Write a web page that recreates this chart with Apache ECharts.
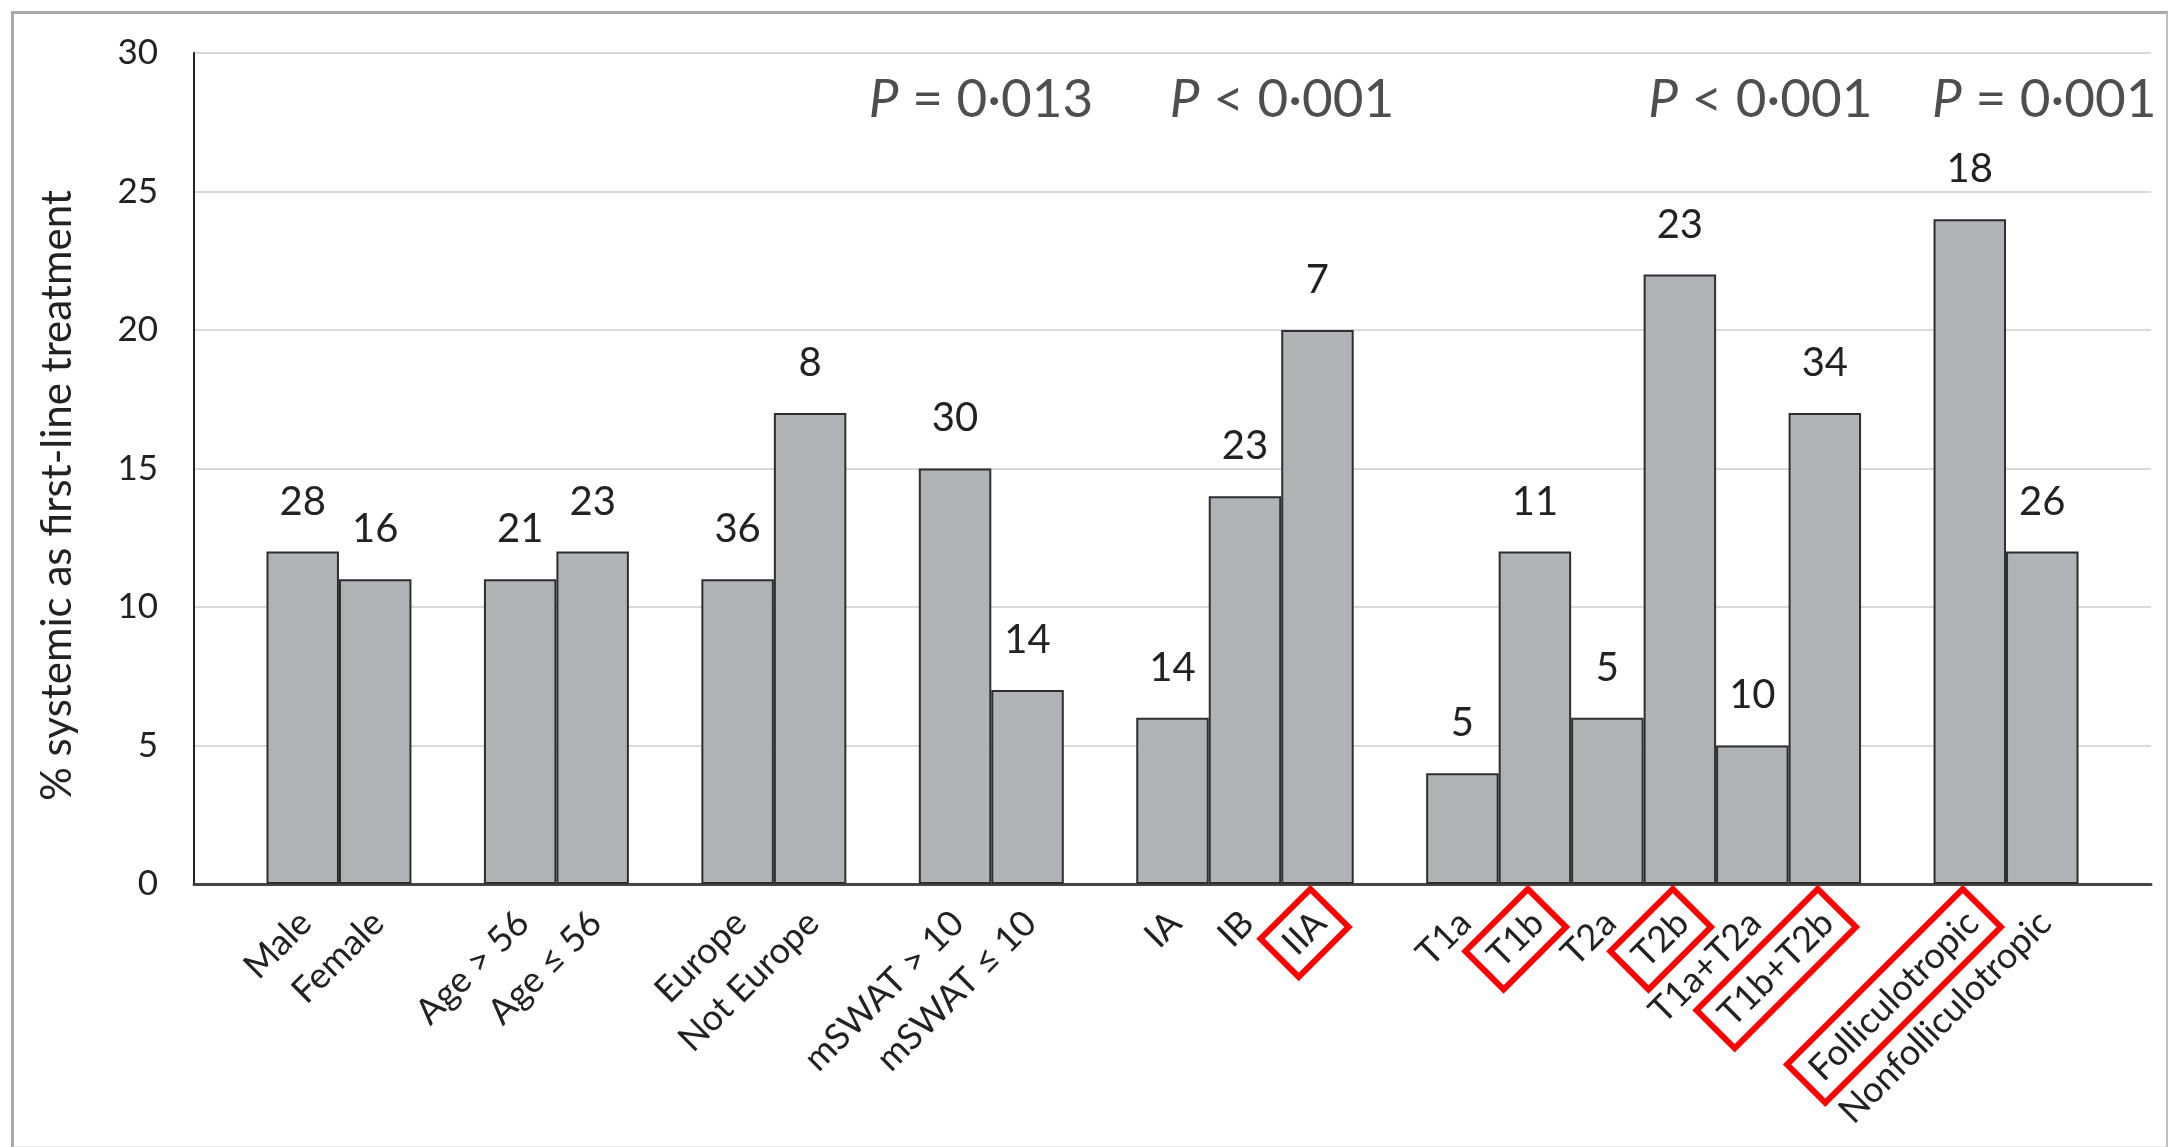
<!DOCTYPE html>
<html>
<head>
<meta charset="utf-8">
<script src="https://cdn.jsdelivr.net/npm/echarts@6/dist/echarts.min.js"></script>
<style>
  html, body { margin: 0; padding: 0; background: #ffffff; }
  #frame {
    position: absolute; left: 11px; top: 11px; width: 2152px; height: 1132px;
    border-top: 3px solid #A9A9A9; border-left: 3px solid #A9A9A9;
    border-right: 2px solid #BDBDBD; border-bottom: 2px solid #E8E8E8;
  }
  #chart { position: absolute; left: 0; top: 0; width: 2172px; height: 1147px; }
</style>
</head>
<body>
<div id="frame"></div>
<div id="chart"></div>
<script>
// Categories along the x axis; empty strings are spacers between variable groups
const categories = ['', 'Male', 'Female', '', 'Age > 56', 'Age ≤ 56', '', 'Europe', 'Not Europe', '',
  'mSWAT > 10', 'mSWAT ≤ 10', '', 'IA', 'IB', 'IIA', '', 'T1a', 'T1b', 'T2a', 'T2b', 'T1a+T2a', 'T1b+T2b', '',
  'Folliculotropic', 'Nonfolliculotropic', ''];

// % of patients receiving systemic therapy as first-line treatment
const systemicPct = [null, 12, 11, null, 11, 12, null, 11, 17, null, 15, 7, null, 6, 14, 20, null,
  4, 12, 6, 22, 5, 17, null, 24, 12, null];

// Number of patients shown above each bar
const patientCounts = [null, 28, 16, null, 21, 23, null, 36, 8, null, 30, 14, null, 14, 23, 7, null,
  5, 11, 5, 23, 10, 34, null, 18, 26, null];

// Categories boxed in red
const highlighted = ['IIA', 'T1b', 'T2b', 'T1b+T2b', 'Folliculotropic'];

// P values and the category each one sits above
const pValueRelation = ['=', '<', '<', '='];
const pValueNumber = ['0·013', '0·001', '0·001', '0·001'];
const pValueAnchor = ['mSWAT > 10', 'IB', 'T1a+T2a', 'Nonfolliculotropic'];
const pValueLevel = 28.3;

// Y axis scale
const yMin = 0, yMax = 30, yStep = 5;

const FONT = 'Lato';
const TEXT = '#222222';
const pShift = [26, 37, 8, 2];

const chart = echarts.init(document.getElementById('chart'), null, { renderer: 'canvas' });

const pData = pValueAnchor.map((c, i) => ({
  value: [categories.indexOf(c), pValueLevel],
  label: { offset: [pShift[i], 0] },
  rel: pValueRelation[i],
  num: pValueNumber[i]
}));

const catLabelStyle = { fontFamily: FONT, fontSize: 36, color: TEXT, padding: [9, 13, 9, 13] };

const option = {
  backgroundColor: 'transparent',
  animation: false,
  grid: { left: 194, right: 21, top: 53, bottom: 263, containLabel: false },
  xAxis: {
    type: 'category',
    data: categories,
    axisLine: { show: true, lineStyle: { color: '#454545', width: 3 } },
    axisTick: { show: false },
    splitLine: { show: false },
    axisLabel: {
      interval: 0,
      rotate: 45,
      margin: 12,
      // extra room on the text's upper side nudges the rotated labels down-right
      padding: [34, 0, 0, 0],
      fontFamily: FONT,
      fontSize: 36,
      color: TEXT,
      formatter: v => v === '' ? '' : (highlighted.includes(v) ? '{hl|' + v + '}' : '{nm|' + v + '}'),
      rich: {
        hl: Object.assign({ borderColor: '#FF0000', borderWidth: 6 }, catLabelStyle),
        nm: catLabelStyle
      }
    }
  },
  yAxis: {
    type: 'value',
    min: yMin, max: yMax, interval: yStep,
    name: '% systemic as first-line treatment',
    nameLocation: 'middle',
    nameGap: 116,
    nameTextStyle: { fontFamily: FONT, fontSize: 42, color: TEXT, padding: [0, 54, 0, 0] },
    axisLine: { show: true, lineStyle: { color: '#222222', width: 2 } },
    axisTick: { show: false },
    axisLabel: { fontFamily: FONT, fontSize: 35, color: TEXT, margin: 36 },
    splitLine: { show: true, lineStyle: { color: '#D9D9D9', width: 2 } }
  },
  series: [
    {
      type: 'bar',
      data: systemicPct,
      barCategoryGap: '0%',
      itemStyle: { color: '#B1B2B6', borderColor: '#2E2E2E', borderWidth: 2 },
      label: {
        show: true,
        position: 'top',
        distance: 30,
        fontFamily: FONT,
        fontSize: 40,
        color: TEXT,
        formatter: p => patientCounts[p.dataIndex] == null ? '' : String(patientCounts[p.dataIndex])
      },
      z: 2
    },
    {
      type: 'scatter',
      data: pData,
      symbolSize: 0,
      silent: true,
      label: {
        show: true,
        position: 'inside',
        formatter: p => '{i|P}{n| ' + p.data.rel + ' ' + p.data.num + '}',
        rich: {
          i: { fontFamily: FONT, fontSize: 53, fontStyle: 'italic', color: TEXT },
          n: { fontFamily: FONT, fontSize: 53, color: TEXT }
        }
      },
      z: 3
    }
  ]
};

chart.setOption(option);
</script>
</body>
</html>
